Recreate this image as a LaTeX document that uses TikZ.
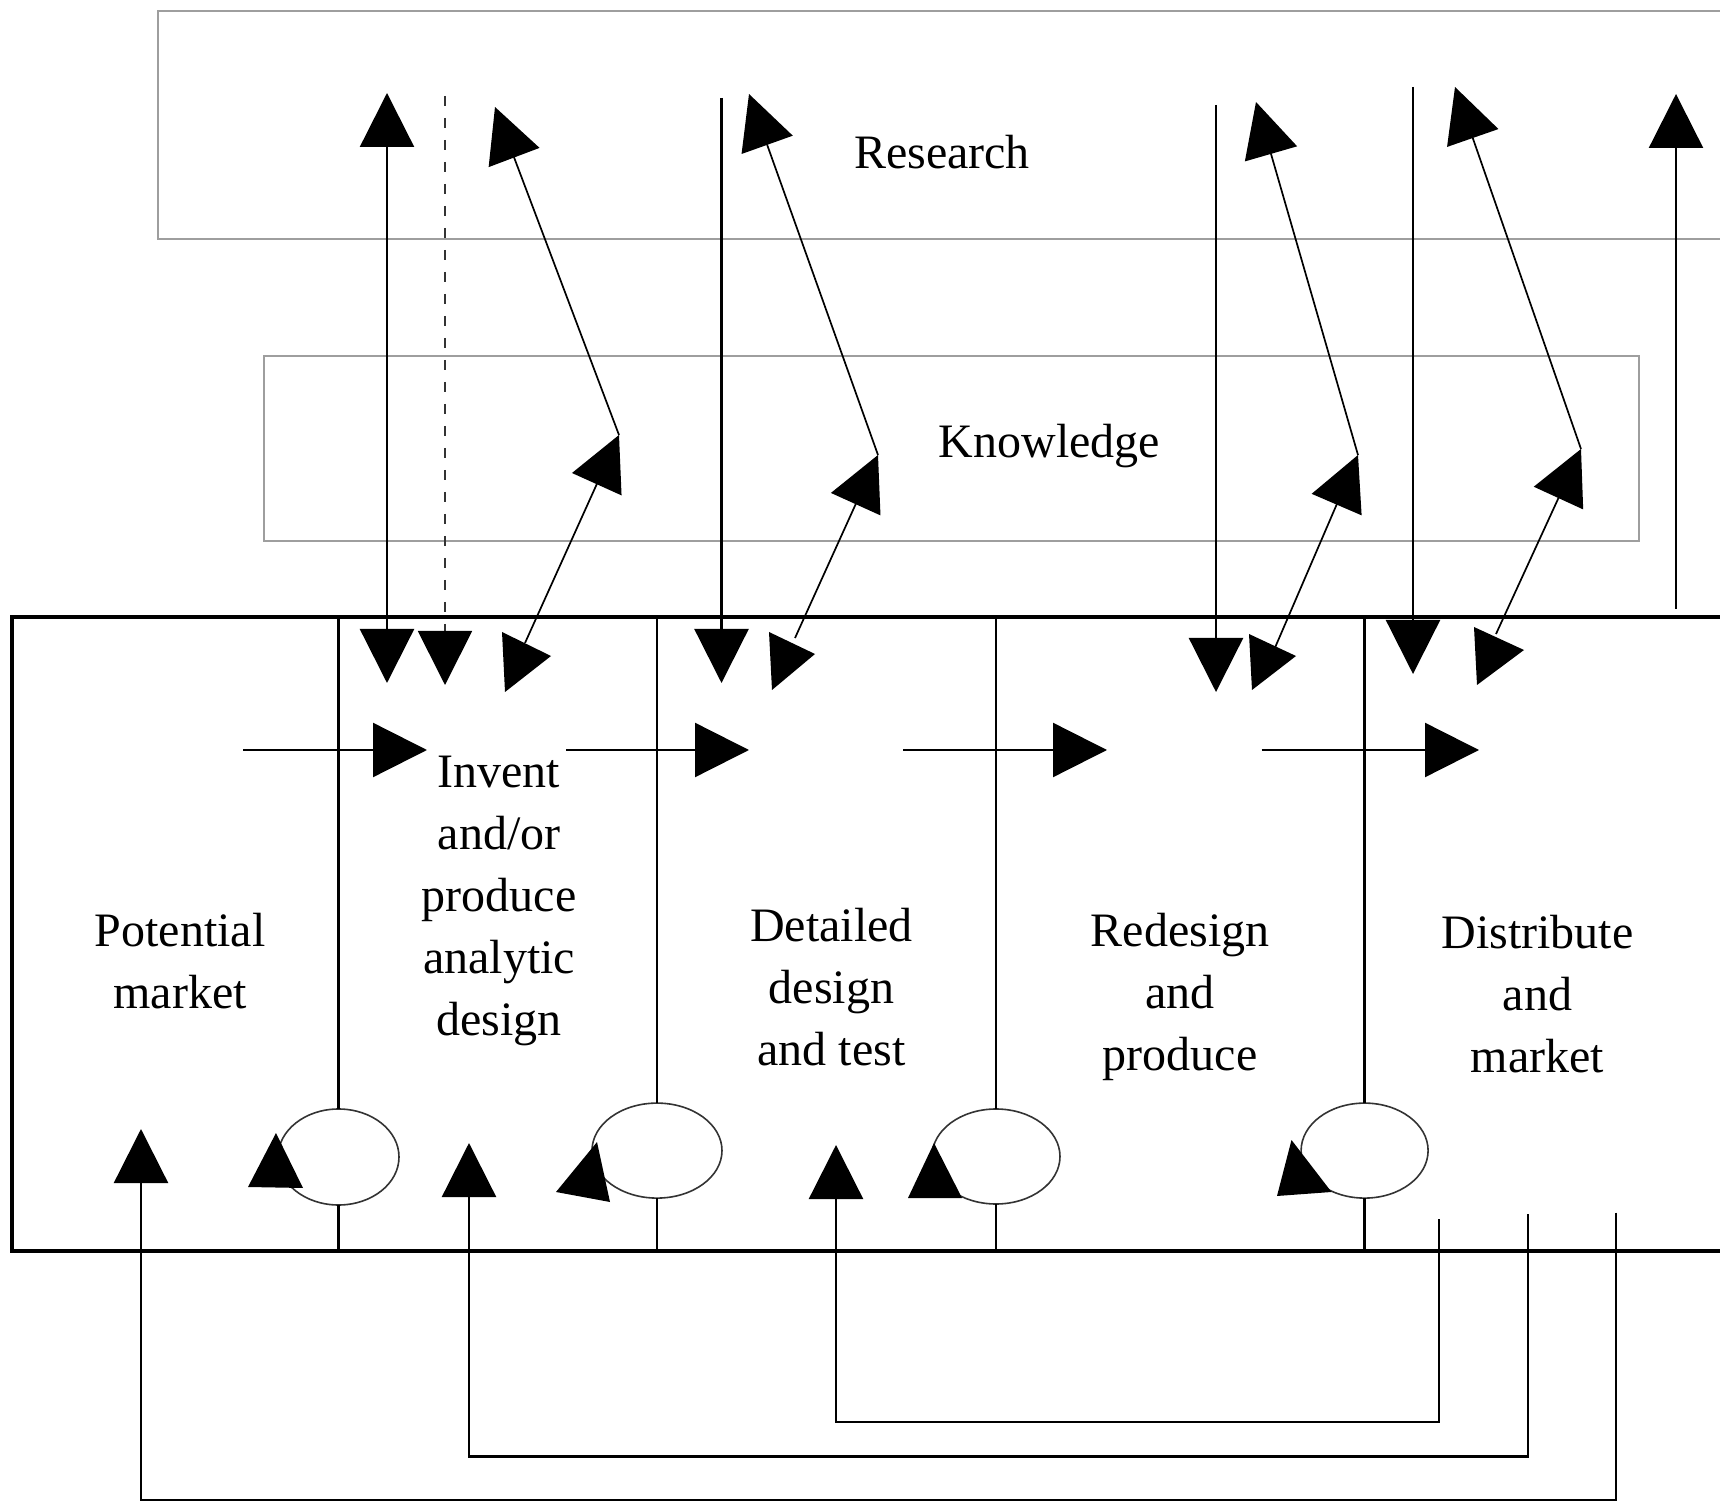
\documentclass[tikz,border=0pt]{standalone}
\usepackage{fontspec}
\setmainfont{Liberation Serif}
\usetikzlibrary{arrows.meta,shapes.geometric}
\begin{document}
\begin{tikzpicture}[x=0.5pt,y=-0.5pt,
  lbl/.style={font=\fontsize{24}{31}\selectfont, inner sep=0pt, align=center, anchor=base},
  grayframe/.style={draw=black!38, line width=1pt},
  mainframe/.style={draw=black, line width=1.6pt},
  conn/.style={draw=black, line width=1.15pt},
  diag/.style={draw=black, line width=0.85pt},
  dashconn/.style={draw=black!80, line width=0.9pt, dash pattern=on 5pt off 6pt},
  tip/.style={-{Triangle[length=27pt,width=27pt,black]}},
  tips/.style={{Triangle[length=27pt,width=27pt,black]}-{Triangle[length=27pt,width=27pt,black]}},
  headfill/.style={fill=black},
  loopnode/.style={draw=black!80, line width=0.8pt, ellipse, inner sep=0pt, outer sep=0pt}
]
\useasboundingbox (0,0) rectangle (1720,1502);
\clip (0,0) rectangle (1720,1502);

% frames
\draw[grayframe] (158,11) rectangle (1760,239);
\draw[grayframe] (264,356) rectangle (1639,541);
\draw[mainframe] (12,617) rectangle (1760,1251);

% labels (anchor = baseline of the last line)
\node[lbl] (research) at (942,169) {Research};
\node[lbl] (knowledge) at (1049.5,457.6) {Knowledge};
\node[lbl] (potential) at (180,1008) {Potential\\market};
\node[lbl] (invent) at (499,1035) {Invent\\and/or\\produce\\analytic\\design};
\node[lbl] (detailed) at (831.5,1065) {Detailed\\design\\and test};
\node[lbl] (redesign) at (1180,1070.5) {Redesign\\and\\produce};
\node[lbl] (distribute) at (1537.5,1072.5) {Distribute\\and\\market};

% loop ellipses
\node[loopnode, minimum width=60.5pt, minimum height=48pt] (c1) at (338.5,1157) {};
\node[loopnode, minimum width=65pt, minimum height=47.5pt] (c2) at (657,1150.6) {};
\node[loopnode, minimum width=64pt, minimum height=47.5pt] (c3) at (996,1156.5) {};
\node[loopnode, minimum width=63.5pt, minimum height=47.5pt] (c4) at (1364.6,1150.6) {};

% stage dividers
\foreach \c in {c1,c2,c3,c4}{
  \draw[conn] (\c.north) -- (\c.north |- 0,617);
  \draw[conn] (\c.south) -- (\c.south |- 0,1251);
}

% heads on the loop ellipses
\fill[headfill] (276,1133) -- (248,1187) -- (303,1188) -- cycle;
\fill[headfill] (597,1142) -- (556,1192) -- (610,1202) -- cycle;
\fill[headfill] (934,1143) -- (908,1198) -- (962,1198) -- cycle;
\fill[headfill] (1291.5,1140) -- (1277,1196) -- (1331.5,1192) -- cycle;

% vertical arrows between research and stages
\coordinate (v1t) at (387,93);   \coordinate (v1b) at (387,683);
\coordinate (vdt) at (445,96);   \coordinate (vdb) at (445,685);
\coordinate (v2t) at (721.5,98); \coordinate (v2b) at (721.5,683);
\coordinate (v3t) at (1216,105); \coordinate (v3b) at (1216,692);
\coordinate (v4t) at (1413,87);  \coordinate (v4b) at (1413,674);
\coordinate (v5t) at (1676,94);  \coordinate (v5b) at (1676,609);
\draw[conn, tips] (v1t) -- (v1b);
\draw[dashconn, tip] (vdt) -- (vdb);
\draw[conn, tip] (v2t) -- (v2b);
\draw[conn, tip] (v3t) -- (v3b);
\draw[conn, tip] (v4t) -- (v4b);
\draw[conn, tip] (v5b) -- (v5t);

% research - knowledge - stage links
\coordinate (r1) at (495,107);  \coordinate (k1) at (619,435);  \coordinate (m1) at (525,643);
\coordinate (r2) at (749,94);   \coordinate (k2) at (878,455);  \coordinate (m2) at (795,638);
\coordinate (r3) at (1256,102); \coordinate (k3) at (1358,455); \coordinate (m3) at (1274,650);
\coordinate (r4) at (1455,87);  \coordinate (k4) at (1581,449); \coordinate (m4) at (1496,634);
\foreach \i in {1,2,3,4}{
  \draw[diag, tip] (k\i) -- (r\i);
  \draw[diag, tip] (m\i) -- (k\i);
}
\fill[headfill] (502,632) -- (551,656) -- (505,692) -- cycle;
\fill[headfill] (769,632) -- (815,654) -- (772,690) -- cycle;
\fill[headfill] (1249,634) -- (1296,656) -- (1252,690) -- cycle;
\fill[headfill] (1474,627) -- (1524,650) -- (1477,685) -- cycle;

% flow arrows between stages
\coordinate (h1a) at (243,750);    \coordinate (h1b) at (427,750);
\coordinate (h2a) at (566,750);    \coordinate (h2b) at (749,750);
\coordinate (h3a) at (903,750);    \coordinate (h3b) at (1107,750);
\coordinate (h4a) at (1261.5,750); \coordinate (h4b) at (1479,750);
\foreach \i in {1,2,3,4}{ \draw[conn, tip] (h\i a) -- (h\i b); }

% feedback loops from the market back to earlier stages
\coordinate (fa0) at (1439,1219); \coordinate (fa1) at (1439,1422); \coordinate (fa2) at (836,1422); \coordinate (fa3) at (836,1145);
\coordinate (fb0) at (1528,1214); \coordinate (fb1) at (1528,1456.5); \coordinate (fb2) at (469,1456.5); \coordinate (fb3) at (469,1143);
\coordinate (fc0) at (1616,1212.5); \coordinate (fc1) at (1616,1500); \coordinate (fc2) at (141,1500); \coordinate (fc3) at (141,1129);
\draw[conn, tip] (fa0) -- (fa1) -- (fa2) -- (fa3);
\draw[conn, tip] (fb0) -- (fb1) -- (fb2) -- (fb3);
\draw[conn, tip] (fc0) -- (fc1) -- (fc2) -- (fc3);
\end{tikzpicture}
\end{document}
